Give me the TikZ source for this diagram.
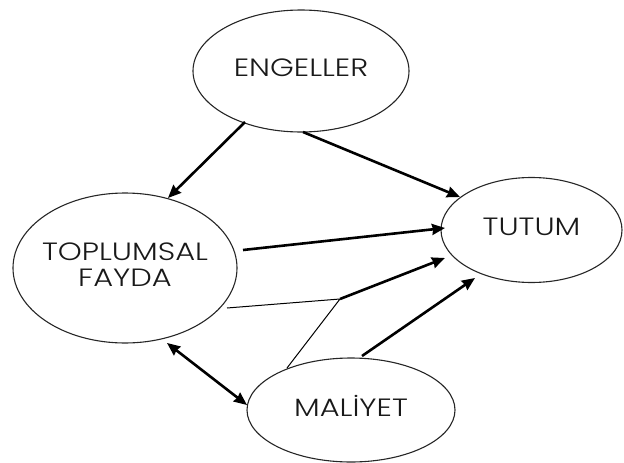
\documentclass[tikz,border=0pt]{standalone}
\usepackage{fontspec}
\setmainfont{Poppins Light}[FakeStretch=1.22]
\usetikzlibrary{shapes.geometric,arrows.meta}
\newcommand{\ovaltext}[1]{\makebox[0pt]{\begin{tabular}{@{}c@{}}#1\end{tabular}}}
\begin{document}
\begin{tikzpicture}[x=1pt,y=-1pt,
  oval/.style={draw=black!85,line width=1.1pt,ellipse,inner sep=0pt,font=\fontsize{25}{28}\selectfont,text=black!90},
  bigarrow/.style={line width=2.6pt,-{Stealth[length=13pt,width=11pt,inset=1pt]}},
  dblarrow/.style={line width=2.6pt,{Stealth[length=13pt,width=11pt,inset=1pt]}-{Stealth[length=13pt,width=11pt,inset=1pt]}},
  thinline/.style={line width=1pt}]
\useasboundingbox (0,0) rectangle (624,463);
\node[oval,minimum width=216pt,minimum height=122pt] (ENG) at (301,71) {\raisebox{5pt}{\ovaltext{ENGELLER}}};
\node[oval,minimum width=224pt,minimum height=150pt] (TOP) at (125,268) {\raisebox{-5pt}{\ovaltext{TOPLUMSAL\\[-2pt]FAYDA}}};
\node[oval,minimum width=181pt,minimum height=105pt] (TUT) at (531.5,230) {\ovaltext{TUTUM}};
\node[oval,minimum width=208pt,minimum height=104pt] (MAL) at (351,410) {\raisebox{-5pt}{\ovaltext{MAL\.IYET}}};
\coordinate (J) at (340,299);
\draw[bigarrow] ([shift={(-56,51)}]ENG.center) -- ([shift={(43,-70)}]TOP.center);
\draw[bigarrow] ([shift={(2,61)}]ENG.center) -- ([shift={(-71.5,-33)}]TUT.center);
\draw[bigarrow] ([shift={(118,-18)}]TOP.center) -- ([shift={(-86.5,-2)}]TUT.center);
\draw[thinline] ([shift={(102,40)}]TOP.center) -- (J) -- ([shift={(-64,-42)}]MAL.center);
\draw[bigarrow] (J) -- ([shift={(-86.5,28)}]TUT.center);
\draw[bigarrow] ([shift={(11,-54)}]MAL.center) -- ([shift={(-56.5,48)}]TUT.center);
\draw[dblarrow] ([shift={(42,75)}]TOP.center) -- ([shift={(-104,-5)}]MAL.center);
\end{tikzpicture}
\end{document}
